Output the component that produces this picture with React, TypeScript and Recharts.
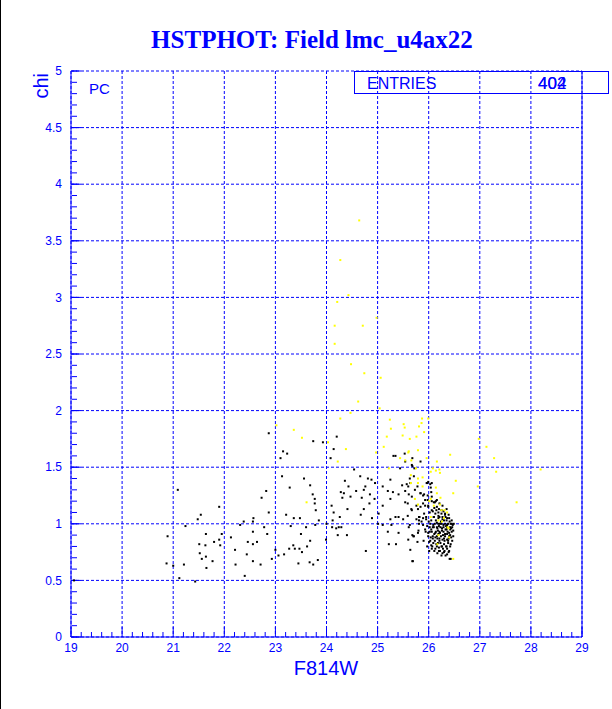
import React from 'react';
import { ScatterChart, Scatter, XAxis, YAxis, CartesianGrid, ReferenceLine } from 'recharts';

const BLUE = '#0000ff';

const xTicks = [19, 20, 21, 22, 23, 24, 25, 26, 27, 28, 29];
const yTicks = [0, 0.5, 1, 1.5, 2, 2.5, 3, 3.5, 4, 4.5, 5];
const xMinorTicks = Array.from({ length: 51 }, (_, i) => Math.round((19 + i * 0.2) * 10) / 10);
const yMinorTicks = Array.from({ length: 51 }, (_, i) => Math.round(i * 0.1 * 10) / 10);

const titleText = 'HSTPHOT: Field lmc_u4ax22';
const xLabel = 'F814W';
const yLabel = 'chi';
const cornerText = 'PC';
const statName = 'ENTRIES';
const statValues = ['404', '402'];

const blackPts: number[][] = [
  [21.09,1.30],[21.54,1.08],[21.48,1.04],[21.24,0.98],[20.89,0.89],[21.64,0.91],[21.51,0.82],[21.63,0.81],
  [21.52,0.74],[21.64,0.71],[21.56,0.69],[20.87,0.65],[21.00,0.63],[21.21,0.64],[21.65,0.61],[21.12,0.52],
  [21.43,0.49],[19.06,0.50],
  [22.87,1.80],[23.74,1.73],[23.93,1.72],[24.20,1.77],[24.14,1.66],[23.15,1.64],[23.23,1.62],[23.10,1.58],
  [24.08,1.58],[23.13,1.42],[23.56,1.40],[23.68,1.34],[23.28,1.32],[24.36,1.38],[24.43,1.33],[22.82,1.29],
  [23.73,1.26],[24.28,1.28],[24.34,1.27],[22.73,1.23],[23.77,1.22],[24.31,1.23],[23.77,1.18],[24.10,1.16],
  [24.41,1.13],[21.90,1.15],[23.79,1.12],[24.14,1.10],[22.87,1.10],[23.21,1.08],[24.26,1.06],[23.36,1.05],
  [23.48,1.05],[23.85,1.03],[24.12,1.03],[22.57,1.05],[22.56,1.02],[22.38,1.02],[22.31,0.99],[22.78,0.97],
  [23.30,0.98],[23.60,0.97],[23.78,0.99],[24.00,1.00],[24.11,0.97],[24.19,0.96],[24.24,0.97],[24.29,0.97],
  [22.56,0.93],[22.84,0.91],[23.50,0.91],[24.22,0.90],[24.40,0.90],[21.95,0.91],[22.13,0.88],[21.90,0.86],
  [23.68,0.85],[23.99,0.86],[21.80,0.84],[22.46,0.84],[22.64,0.84],[22.56,0.82],[21.92,0.81],[23.35,0.81],
  [23.62,0.80],[23.00,0.77],[23.27,0.78],[23.38,0.78],[23.47,0.78],[23.52,0.75],[22.21,0.77],[23.17,0.73],
  [23.06,0.72],[22.44,0.73],[22.93,0.69],[23.83,0.68],[21.77,0.67],[23.67,0.66],[22.56,0.67],[23.45,0.65],
  [23.74,0.64],[22.22,0.64],[22.71,0.64],[22.40,0.54],
  [25.53,1.62],[25.35,1.60],[25.68,1.58],[25.68,1.51],[25.44,1.49],[24.54,1.48],[24.66,1.42],[24.81,1.40],
  [24.88,1.39],[25.25,1.39],[25.48,1.34],[25.57,1.35],[25.78,1.33],[24.76,1.33],[24.95,1.36],[25.10,1.33],
  [24.58,1.29],[24.73,1.30],[25.20,1.29],[25.30,1.28],[25.54,1.29],[25.41,1.26],[25.61,1.26],[24.85,1.26],
  [24.47,1.24],[24.69,1.23],[24.94,1.22],[25.25,1.22],[24.84,1.18],[25.54,1.19],[24.73,1.13],[25.10,1.16],
  [25.66,1.13],[25.79,1.13],[24.67,1.08],[24.89,1.05],[25.02,1.09],[25.41,1.06],[25.50,1.04],[25.25,1.04],
  [25.35,1.06],[25.76,1.04],[25.01,1.00],[25.10,0.99],[25.27,0.99],[25.63,0.99],[25.81,1.03],[25.20,0.93],
  [25.41,0.92],[25.79,0.92],[25.71,0.89],[25.78,0.84],[25.22,0.82],[25.36,0.82],[24.77,0.76],[25.68,0.67],
  [25.63,1.40],[25.71,1.42],[25.60,1.33],[25.73,1.30],[25.67,1.24],[25.59,1.18],[25.76,1.16],[25.67,1.12],
  [25.59,1.07],[25.61,0.97],[25.80,0.94],[25.68,0.90],[25.60,0.86],[25.64,0.77],[25.84,1.27],[25.91,1.26],
  [25.72,1.49],[25.84,1.55],[25.54,1.55],[25.67,1.52],[25.31,1.60],
  [25.96,1.36],[25.99,1.37],[25.89,1.25],[25.93,1.21],[25.98,1.25],[26.10,1.19],[26.14,1.20],[26.05,1.28],
  [26.06,1.24],[26.16,1.15],[26.25,1.12],[26.35,1.13],[25.99,1.16],[26.06,1.12],[26.13,1.09],[26.21,1.06],
  [26.32,1.08],[26.36,1.05],[26.43,1.00],[26.46,0.97],[26.16,1.01],[26.22,1.00],[26.29,0.99],[26.36,0.99],
  [26.08,0.97],[26.17,0.96],[26.26,0.96],[26.35,0.95],[26.42,0.95],[25.93,0.95],[26.02,0.93],[26.13,0.92],
  [26.22,0.92],[26.32,0.91],[26.42,0.90],[25.99,0.89],[26.08,0.87],[26.17,0.87],[26.27,0.86],[26.36,0.86],
  [26.46,0.85],[25.70,0.89],[26.05,0.81],[26.18,0.83],[26.26,0.80],[26.35,0.80],[26.43,0.82],[26.06,0.78],
  [26.22,0.76],[26.30,0.75],[26.39,0.75],[26.43,0.69],[25.69,0.67],[25.86,1.02],[25.95,1.04],[25.81,1.06],
  [25.91,1.09],[26.05,1.03],[26.10,1.06],[25.84,1.15],[25.89,1.18],[26.04,1.32],[26.06,1.36],[25.98,1.21],
  [26.19,1.07],[26.27,1.04],
  [25.97,1.36],[26.03,1.35],[25.64,1.36],[25.84,1.27],[26.06,1.20],[26.12,1.19],[26.16,1.21],[26.21,1.18],
  [26.27,1.16],[25.93,1.16],[25.99,1.15],[26.08,1.11],[26.15,1.12],[26.19,1.10],[26.25,1.09],[26.32,1.09],
  [25.82,1.06],[25.89,1.05],[25.95,1.06],[26.10,1.06],[26.19,1.05],[26.27,1.06],[26.33,1.06],[26.40,1.05],
  [26.45,1.03],[26.12,1.00],[26.19,1.00],[26.25,1.00],[26.32,1.00],[26.38,1.00],[26.45,1.00],[26.49,1.00],
  [25.81,1.00],[25.89,0.99],[26.02,0.97],[26.10,0.97],[26.16,0.97],[26.23,0.97],[26.29,0.97],[26.36,0.97],
  [26.42,0.97],[25.94,0.93],[26.06,0.93],[26.14,0.93],[26.21,0.93],[26.29,0.93],[26.37,0.93],[26.45,0.93],
  [26.08,0.89],[26.16,0.89],[26.24,0.89],[26.32,0.89],[26.40,0.89],[26.48,0.89],[25.90,0.85],[26.03,0.85],
  [26.12,0.85],[26.21,0.85],[26.31,0.85],[26.38,0.85],[25.97,0.80],[26.07,0.80],[26.16,0.80],[26.25,0.80],
  [26.34,0.80],[26.42,0.80],[26.01,0.76],[26.11,0.76],[26.20,0.76],[26.31,0.76],[26.40,0.76],[26.25,0.72],
  [26.33,0.72],[26.41,0.69],
  [26.14,1.03],[26.24,1.02],[26.30,1.03],[26.41,1.02],[26.09,0.99],[26.20,0.98],[26.34,0.98],[26.47,0.99],
  [26.05,0.95],[26.18,0.94],[26.26,0.94],[26.33,0.95],[26.40,0.92],[26.11,0.91],[26.19,0.91],[26.28,0.90],
  [26.36,0.91],[26.44,0.88],[26.04,0.88],[26.13,0.88],[26.21,0.87],[26.30,0.87],[26.39,0.87],[26.09,0.83],
  [26.15,0.82],[26.23,0.83],[26.30,0.82],[26.38,0.83],[26.13,0.78],[26.20,0.79],[26.28,0.78],[26.36,0.78],
  [26.17,0.74],[26.27,0.74],[26.36,0.73],[26.02,1.10],[26.11,1.14],[26.20,1.13],[26.29,1.11],[26.39,1.08],
  [26.00,1.02],[26.03,1.00],[25.97,0.98],[25.99,0.92],[26.01,0.84],[26.35,1.03],[26.44,0.96],[26.48,0.94]
];

const yellowPts: number[][] = [
  [24.64,3.68],[24.27,3.33],[24.43,3.02],[24.21,2.96],[24.98,2.82],[24.16,2.75],[24.71,2.75],[24.16,2.59],
  [24.48,2.41],[24.74,2.33],[25.06,2.29],[24.62,2.08],[25.04,2.02],[24.47,1.98],[24.27,1.93],[25.24,1.92],
  [25.51,1.88],[25.81,1.86],[25.26,1.84],[25.53,1.85],[25.18,1.77],[25.49,1.78],[25.76,1.77],[25.63,1.75],
  [24.38,1.66],[25.12,1.68],[25.61,1.64],[25.79,1.65],[24.97,1.63],[25.44,1.58],[25.54,1.56],[25.66,1.56],
  [25.22,1.49],[25.75,1.49],[25.65,1.43],[25.79,1.40],[25.65,1.36],[25.79,1.36],[25.73,1.22],[25.79,1.17],
  [23.02,1.87],[23.36,1.83],[23.52,1.76],[24.03,1.72],[24.22,1.55],[23.61,1.19],
  [25.87,1.93],[25.99,1.93],[25.86,1.89],[25.91,1.81],[26.98,1.75],[27.13,1.68],[27.28,1.58],[26.42,1.61],
  [26.16,1.55],[25.96,1.58],[26.08,1.49],[26.14,1.47],[26.21,1.48],[26.04,1.46],[26.22,1.45],[27.32,1.46],
  [28.19,1.48],[26.53,1.38],[25.88,1.41],[26.96,1.33],[26.14,1.32],[25.88,1.33],[26.48,1.27],[26.23,1.23],
  [27.72,1.19],[26.16,1.27],[25.60,1.63],
  [26.01,1.20],[26.22,1.17],[26.25,1.12],[26.04,1.22],[26.36,1.10],[26.26,1.02],[26.39,0.96],[26.19,0.90],
  [26.40,0.88],[26.17,0.82],[26.48,0.69],[26.30,1.05],[26.04,1.06],[26.10,1.16],[26.31,1.12],[26.19,1.03],
  [26.37,0.97]
];

const blackData = blackPts.map(([x, y]) => ({ x, y }));
const yellowData = yellowPts.map(([x, y]) => ({ x, y }));

// plot geometry (used only to express tick lengths in data units)
const CHART_W = 612;
const CHART_H = 709;
const MARGIN = { top: 71, right: 30, bottom: 0, left: 0 };
const X_AXIS_H = 72;
const PLOT_H = CHART_H - MARGIN.top - X_AXIS_H;
const Y_SPAN = 5;
const pxToY = (px: number) => (px * Y_SPAN) / PLOT_H;

const square = (color: string) => (props: any) => {
  const { cx, cy } = props;
  if (cx == null || cy == null) return <g />;
  return <rect x={cx - 1} y={cy - 1} width={2} height={2} fill={color} />;
};

const emptyTick = () => <g />;

const tickFont = { fill: BLUE, fontSize: 12, fontFamily: 'Liberation Sans, Arial, sans-serif' };

export default function App() {
  return (
    <div style={{ position: 'absolute', left: 0, top: 0, width: CHART_W, height: CHART_H, background: '#fff' }}>
      <ScatterChart width={CHART_W} height={CHART_H} margin={MARGIN}>
        <CartesianGrid stroke={BLUE} strokeDasharray="3 2" />
        <XAxis
          xAxisId={0}
          type="number"
          dataKey="x"
          domain={[19, 29]}
          ticks={xTicks}
          interval={0}
          height={X_AXIS_H}
          tickSize={0}
          tickMargin={6}
          tickLine={false}
          axisLine={{ stroke: BLUE }}
          tick={tickFont}
        />
        <YAxis
          yAxisId={0}
          type="number"
          dataKey="y"
          domain={[0, 5]}
          ticks={yTicks}
          interval={0}
          width={71}
          tickSize={0}
          tickMargin={9}
          tickLine={false}
          axisLine={{ stroke: BLUE }}
          tick={tickFont}
        />
        <YAxis yAxisId="minor" type="number" domain={[0, 5]} allowDataOverflow ticks={yMinorTicks} interval={0} mirror width={1}
          tick={emptyTick} tickSize={5} axisLine={false} tickLine={{ stroke: BLUE }} />
        <YAxis yAxisId="major" type="number" domain={[0, 5]} allowDataOverflow ticks={yTicks} interval={0} mirror width={1}
          tick={emptyTick} tickSize={10} axisLine={false} tickLine={{ stroke: BLUE }} />
        {xMinorTicks.map((v) => (
          <ReferenceLine
            key={`xm${v}`}
            segment={[{ x: v, y: 0 }, { x: v, y: pxToY(xTicks.includes(v) ? 10 : 5) }]}
            stroke={BLUE}
            strokeWidth={1}
          />
        ))}
        <ReferenceLine x={29} stroke={BLUE} strokeWidth={1} />
        <Scatter data={blackData} shape={square('#000000')} isAnimationActive={false} />
        <Scatter data={yellowData} shape={square('#ffff00')} isAnimationActive={false} />
      </ScatterChart>
      <svg width={CHART_W} height={CHART_H} style={{ position: 'absolute', left: 0, top: 0, pointerEvents: 'none' }}>
        <line x1={0.5} y1={0} x2={0.5} y2={CHART_H} stroke="#000" strokeWidth={1} />
        <text x={312} y={48} textAnchor="middle" fill={BLUE} fontFamily="Liberation Serif, Times New Roman, serif"
          fontWeight="bold" fontSize={25}>{titleText}</text>
        <text x={326} y={675} textAnchor="middle" fill={BLUE} fontFamily="Liberation Sans, Arial, sans-serif"
          fontSize={20}>{xLabel}</text>
        <text x={48} y={73} textAnchor="end" fill={BLUE} fontFamily="Liberation Sans, Arial, sans-serif"
          fontSize={20} transform="rotate(-90 48 73)">{yLabel}</text>
        <text x={89} y={94} fill={BLUE} fontFamily="Liberation Sans, Arial, sans-serif" fontSize={15}>{cornerText}</text>
        <rect x={354.5} y={71.5} width={254} height={22} fill="none" stroke={BLUE} strokeWidth={1} />
        <text x={367} y={89} fill={BLUE} fontFamily="Liberation Sans, Arial, sans-serif" fontSize={16}>{statName}</text>
        {statValues.map((v) => (
          <text key={v} x={538} y={89} fill={BLUE} fontFamily="Liberation Sans, Arial, sans-serif" fontSize={17}>{v}</text>
        ))}
      </svg>
    </div>
  );
}
